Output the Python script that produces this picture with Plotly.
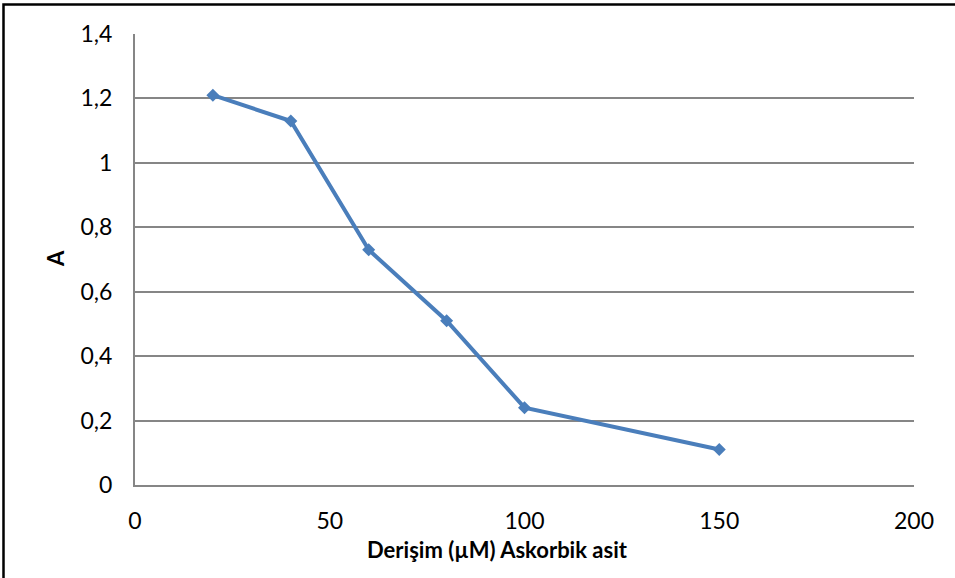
import plotly.graph_objects as go

# Ascorbic acid concentration (µM) and measured absorbance
concentration = [20, 40, 60, 80, 100, 150]
absorbance = [1.21, 1.13, 0.73, 0.51, 0.24, 0.11]

x_ticks = [0, 50, 100, 150, 200]
y_ticks = [0, 0.2, 0.4, 0.6, 0.8, 1.0, 1.2, 1.4]
y_tick_text = ["0", "0,2", "0,4", "0,6", "0,8", "1", "1,2", "1,4"]

W, H = 955, 578
L, R, T, B = 135, 41, 34, 93
pw, ph = W - L - R, H - T - B

FONT = "Lato, 'Open Sans', sans-serif"
LINE_BLUE = "#4A7EBB"
GRID = "#868686"

fig = go.Figure()
fig.add_trace(go.Scatter(
    x=concentration, y=absorbance, mode="lines+markers",
    line=dict(color=LINE_BLUE, width=4),
    marker=dict(symbol="diamond", size=10, color=LINE_BLUE),
    showlegend=False, cliponaxis=False,
))

fig.update_layout(
    width=W, height=H,
    margin=dict(l=L, r=R, t=T, b=B, pad=0),
    paper_bgcolor="white", plot_bgcolor="white",
    font=dict(family=FONT, size=23, color="black"),
    xaxis=dict(
        range=[0, 200], tickvals=x_ticks, ticktext=[str(v) for v in x_ticks],
        showgrid=False, zeroline=False,
        showline=True, linecolor=GRID, linewidth=2,
        ticks="outside", ticklen=14, tickcolor="rgba(0,0,0,0)",
    ),
    yaxis=dict(
        range=[0, 1.4], tickvals=y_ticks, ticktext=y_tick_text,
        showgrid=True, gridcolor=GRID, gridwidth=2, zeroline=False,
        showline=True, linecolor=GRID, linewidth=2,
        ticks="outside", ticklen=16, tickcolor="rgba(0,0,0,0)",
    ),
    annotations=[
        dict(text="<b>Derişim (µM) Askorbik asit</b>", xref="paper", yref="paper",
             x=(497 - L) / pw, y=-(549 - (H - B)) / ph, showarrow=False,
             xanchor="center", yanchor="middle", font=dict(size=22)),
        dict(text="<b>A</b>", xref="paper", yref="paper",
             x=-(L - 55) / pw, y=(H - B - 259) / ph, showarrow=False, textangle=-90,
             xanchor="center", yanchor="middle", font=dict(size=22)),
    ],
    shapes=[dict(
        type="rect", xref="paper", yref="paper",
        x0=(3.5 - L) / pw, x1=1 + 100 / pw,
        y0=-(B + 100) / ph, y1=1 + (T - 4.5) / ph,
        line=dict(color="black", width=2.5), fillcolor="rgba(0,0,0,0)",
    )],
)

fig.write_html("out.html")
